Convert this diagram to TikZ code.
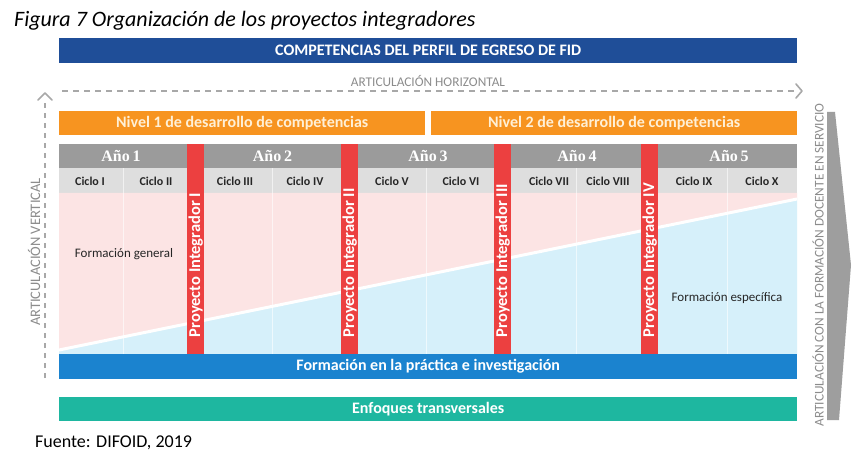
\documentclass[tikz,border=0pt]{standalone}
\usepackage{fontspec}
\usetikzlibrary{calc}
\setmainfont{Carlito}
\newfontfamily\anofont{Liberation Serif}
\definecolor{cdblue}{RGB}{31,78,152}
\definecolor{corange}{RGB}{247,148,32}
\definecolor{cnivtext}{RGB}{255,240,214}
\definecolor{cano}{RGB}{155,155,155}
\definecolor{cciclo}{RGB}{222,222,222}
\definecolor{cpink}{RGB}{252,228,228}
\definecolor{clblue}{RGB}{214,240,250}
\definecolor{cred}{RGB}{236,64,64}
\definecolor{cpract}{RGB}{27,131,207}
\definecolor{cteal}{RGB}{30,183,160}
\definecolor{cgraytext}{RGB}{140,140,140}
\definecolor{cdash}{RGB}{168,168,168}
\definecolor{carrow}{RGB}{158,158,158}
\begin{document}
\begin{tikzpicture}[x=1pt,y=-1pt,
  bar/.style={rectangle, inner sep=0pt, anchor=north west, text=white},
  anolabel/.style={text=white, font=\anofont\bfseries\fontsize{16}{18}\selectfont},
  ciclolabel/.style={text=black!85, font=\bfseries\fontsize{12}{14}\selectfont},
  projlabel/.style={rotate=90, anchor=west, inner sep=0pt, text=white, font=\bfseries\fontsize{16.5}{18}\selectfont},
  graylabel/.style={text=cgraytext, font=\fontsize{13.3}{15}\selectfont},
  dashline/.style={draw=cdash, line width=2pt, dash pattern=on 6pt off 5pt},
  chev/.style={draw=cdash, line width=1.6pt, line cap=round, line join=round}
]
\useasboundingbox (0,0) rectangle (854,457);
\fill[white] (0,0) rectangle (854,457);

% title
\node[anchor=base west, inner sep=0pt, font=\itshape\fontsize{22}{24}\selectfont] (title) at (14,27) {Figura 7 Organización de los proyectos integradores};

% competencias
\node[bar, fill=cdblue, minimum width=738pt, minimum height=25pt, font=\bfseries\fontsize{16}{18}\selectfont] (comp) at (59,38) {COMPETENCIAS DEL PERFIL DE EGRESO DE FID};

% horizontal articulation
\node[graylabel] (arth) at (428,81) {ARTICULACIÓN HORIZONTAL};
\coordinate (hs) at (62,91);
\coordinate (he) at (796,91);
\draw[dashline] (hs) -- (he);
\coordinate (hc) at (802,91);
\draw[chev] ($(hc)+(-6,-7)$) -- (hc) -- ($(hc)+(-6,7)$);

% vertical articulation
\coordinate (vs) at (45,378);
\coordinate (ve) at (45,100);
\draw[dashline, dash pattern=on 5pt off 5pt] (vs) -- (ve);
\coordinate (vc) at (45,93);
\draw[chev] ($(vc)+(-7,7)$) -- (vc) -- ($(vc)+(7,7)$);
\node[graylabel, rotate=90, font=\fontsize{14.5}{16}\selectfont] (artv) at (34,252) {ARTICULACIÓN VERTICAL};

% niveles
\node[bar, fill=corange, minimum width=366pt, minimum height=24pt, text=cnivtext, font=\bfseries\fontsize{16}{18}\selectfont] (niv1) at (59,111) {Nivel 1 de desarrollo de competencias};
\node[bar, fill=corange, minimum width=366pt, minimum height=24pt, text=cnivtext, font=\bfseries\fontsize{16}{18}\selectfont] (niv2) at (431,111) {Nivel 2 de desarrollo de competencias};

% rows
\fill[cano] (59,144) rectangle (797,168);
\fill[cciclo] (59,168) rectangle (797,193);
\fill[cpink] (59,193) -- (797,193) -- (797,199) -- (59,350) -- cycle;
\fill[clblue] (59,350) -- (797,199) -- (797,354) -- (59,354) -- cycle;
\draw[white, line width=3pt] (59,350) -- (797,199);
\foreach \xx in {123,272.5,426,576,727.5} {
  \draw[white, line width=0.8pt, opacity=0.6] (\xx,168) -- (\xx,354);
}

% anos
\node[anolabel] (a1) at (121,156) {Año\,1};
\node[anolabel] (a2) at (272.5,156) {Año\,2};
\node[anolabel] (a3) at (428,156) {Año\,3};
\node[anolabel] (a4) at (577,156) {Año\,4};
\node[anolabel] (a5) at (729,156) {Año\,5};

% ciclos
\node[ciclolabel] (c1) at (90,181) {Ciclo I};
\node[ciclolabel] (c2) at (156,181) {Ciclo II};
\node[ciclolabel] (c3) at (235,181) {Ciclo III};
\node[ciclolabel] (c4) at (305,181) {Ciclo IV};
\node[ciclolabel] (c5) at (392,181) {Ciclo V};
\node[ciclolabel] (c6) at (461,181) {Ciclo VI};
\node[ciclolabel] (c7) at (549,181) {Ciclo VII};
\node[ciclolabel] (c8) at (608,181) {Ciclo VIII};
\node[ciclolabel] (c9) at (694,181) {Ciclo IX};
\node[ciclolabel] (c10) at (762,181) {Ciclo X};

% proyectos
\node[bar, fill=cred, minimum width=17pt, minimum height=210pt] (p1) at (187,144) {};
\node[bar, fill=cred, minimum width=17pt, minimum height=210pt] (p2) at (341,144) {};
\node[bar, fill=cred, minimum width=17pt, minimum height=210pt] (p3) at (494,144) {};
\node[bar, fill=cred, minimum width=17pt, minimum height=210pt] (p4) at (641,144) {};
\node[projlabel] (t1) at ($(p1.south)+(0,-17)$) {Proyecto Integrador I};
\node[projlabel] (t2) at ($(p2.south)+(0,-17)$) {Proyecto Integrador II};
\node[projlabel] (t3) at ($(p3.south)+(0,-17)$) {Proyecto Integrador III};
\node[projlabel] (t4) at ($(p4.south)+(0,-17)$) {Proyecto Integrador IV};

% formacion labels
\node[text=black!85, font=\fontsize{13}{15}\selectfont] (fg) at (124,254) {Formación general};
\node[text=black!85, font=\fontsize{13}{15}\selectfont] (fe) at (727,298) {Formación específica};

% bottom bars
\node[bar, fill=cpract, minimum width=738pt, minimum height=25pt, font=\bfseries\fontsize{16}{18}\selectfont] (prac) at (59,354) {Formación en la práctica e investigación};
\node[bar, fill=cteal, minimum width=738pt, minimum height=24pt, font=\bfseries\fontsize{16}{18}\selectfont] (enf) at (59,397) {Enfoques transversales};

% fuente
\node[anchor=base west, inner sep=0pt, font=\fontsize{18}{20}\selectfont] (fuente) at (35,447) {Fuente: DIFOID, 2019};

% right articulation
\fill[carrow] (827,112) -- (835,112) -- (851,265) -- (839,420) -- (827,420) -- cycle;
\node[graylabel, rotate=90] (artr) at (818,265) {ARTICULACIÓN CON LA FORMACIÓN DOCENTE EN SERVICIO};
\end{tikzpicture}
\end{document}
